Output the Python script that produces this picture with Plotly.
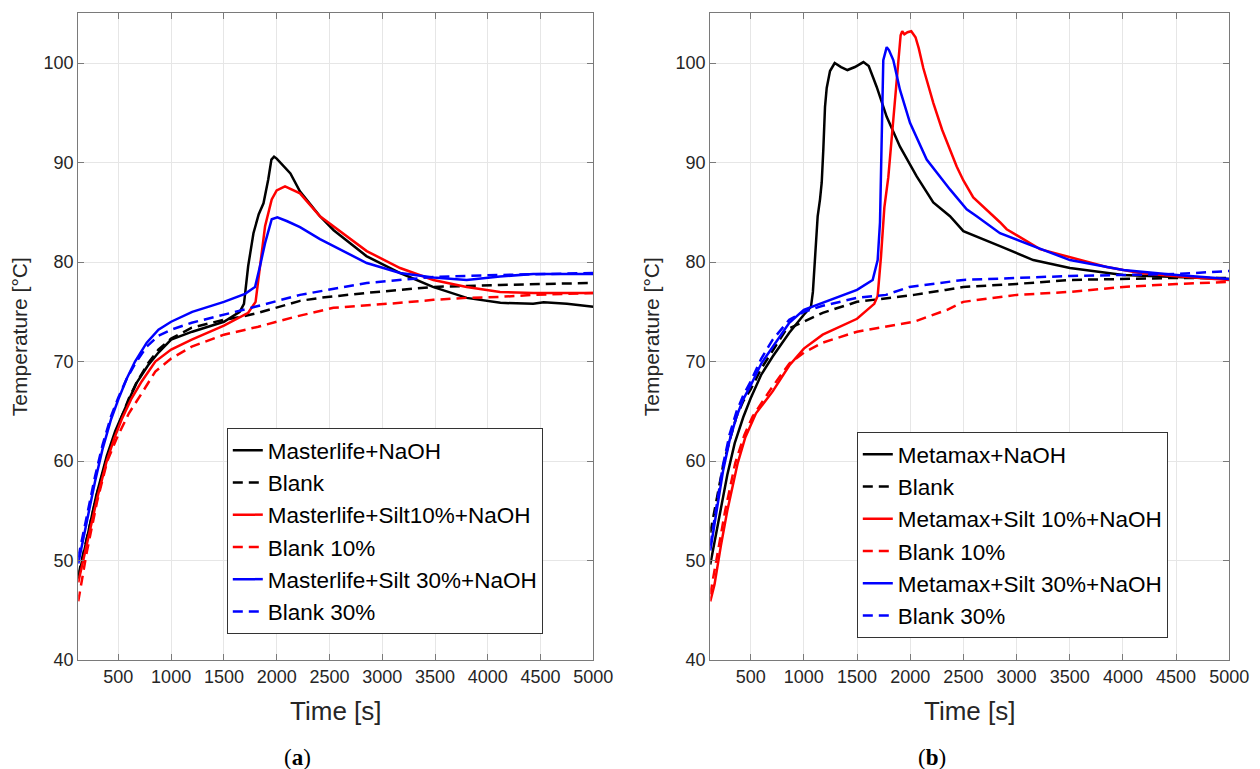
import plotly.graph_objects as go

# ---------------- (a) Masterlife ----------------
t_a_ml = [120, 200, 290, 390, 470, 560, 670, 780, 880, 1000, 1200, 1500, 1650, 1690, 1730, 1780, 1830, 1875,
          1920, 1950, 1975, 2000, 2130, 2220, 2410, 2540, 2850, 3170, 3480, 3800, 4120, 4430, 4530, 4750, 5000]
y_a_ml = [48.2, 52.0, 56.5, 60.5, 63.0, 65.2, 67.8, 69.6, 70.9, 72.2, 73.0, 74.0, 75.0, 75.8, 79.6, 82.9, 84.8, 85.9,
          88.3, 90.3, 90.6, 90.4, 88.9, 87.1, 84.6, 83.2, 80.6, 78.9, 77.5, 76.4, 75.9, 75.8, 75.95, 75.8, 75.5]

t_a_blank = [120, 200, 300, 400, 500, 600, 674, 780, 879, 1000, 1195, 1500, 1669, 1826, 2079, 2221, 2410, 2853,
             3484, 4116, 5000]
y_a_blank = [48.5, 52.3, 56.8, 60.6, 63.6, 66.3, 67.9, 69.8, 71.2, 72.3, 73.4, 74.2, 74.5, 74.9, 75.7, 76.1, 76.4, 76.9,
             77.5, 77.7, 77.9]

t_a_s10 = [120, 200, 300, 390, 462, 532, 620, 721, 850, 1000, 1195, 1500, 1730, 1800, 1843, 1890, 1953, 2000, 2079,
           2221, 2410, 2537, 2853, 3169, 3484, 3800, 4116, 4431, 5000]
y_a_s10 = [47.8, 51.5, 56.3, 60.0, 62.3, 64.2, 66.2, 68.0, 70.0, 71.2, 72.2, 73.6, 74.9, 76.0, 79.6, 83.6, 86.3, 87.2, 87.6,
           86.9, 84.6, 83.6, 81.1, 79.4, 78.2, 77.5, 77.0, 76.9, 76.9]

t_a_b10 = [120, 150, 200, 300, 395, 485, 600, 721, 850, 1000, 1195, 1500, 1826, 2174, 2537, 3169, 3484, 3800, 4116,
           4431, 5000]
y_a_b10 = [45.9, 47.8, 50.8, 56.0, 60.0, 62.3, 64.8, 66.8, 69.0, 70.3, 71.5, 72.7, 73.5, 74.5, 75.4, 75.9, 76.2, 76.4, 76.5,
           76.7, 76.9]

t_a_s30 = [120, 200, 280, 350, 431, 500, 580, 658, 769, 880, 1000, 1200, 1500, 1700, 1795, 1840, 1890, 1953, 2006, 2100,
           2221, 2410, 2537, 2853, 3169, 3484, 3800, 4116, 4431, 5000]
y_a_s30 = [49.7, 54.0, 58.0, 61.2, 64.2, 66.2, 68.3, 70.0, 71.9, 73.2, 74.0, 75.0, 76.0, 76.8, 77.5, 79.5, 81.9, 84.3, 84.5,
           84.1, 83.5, 82.3, 81.6, 79.9, 78.9, 78.45, 78.2, 78.55, 78.8, 78.8]

t_a_b30 = [120, 200, 280, 350, 431, 500, 580, 660, 769, 880, 1000, 1195, 1500, 1795, 2221, 2853, 3484, 4116, 5000]
y_a_b30 = [50.3, 54.5, 58.5, 61.6, 64.5, 66.4, 68.3, 69.8, 71.5, 72.6, 73.2, 73.9, 74.7, 75.5, 76.7, 77.9, 78.5, 78.7, 78.9]

# ---------------- (b) Metamax ----------------
t_b_mm = [120, 200, 280, 350, 430, 500, 600, 707, 863, 1000, 1067, 1085, 1098, 1130, 1152, 1168, 1183, 1199, 1215,
          1246, 1290, 1350, 1410, 1480, 1560, 1610, 1653, 1685, 1779, 1904, 2061, 2217, 2374, 2500, 2844,
          3157, 3502, 4003, 4505, 5000]
y_b_mm = [49.6, 54.3, 58.6, 61.8, 64.4, 66.3, 68.7, 70.5, 72.9, 74.7, 75.5, 77.0, 79.6, 84.6, 86.3, 88.0, 91.3, 95.6, 97.5,
          99.2, 100.0, 99.6, 99.3, 99.6, 100.1, 99.7, 98.5, 97.6, 94.6, 91.6, 88.6, 86.0, 84.6, 83.1, 81.6,
          80.2, 79.4, 78.7, 78.5, 78.3]

t_b_blank = [120, 180, 240, 300, 368, 430, 500, 600, 700, 832, 1000, 1177, 1500, 2036, 2333, 2499, 3001, 3502, 4505, 5000]
y_b_blank = [52.8, 56.0, 59.5, 62.0, 64.5, 66.0, 67.2, 69.3, 71.0, 73.2, 74.0, 74.9, 76.0, 76.7, 77.2, 77.5, 77.8, 78.2,
             78.4, 78.4]

t_b_s10 = [120, 160, 220, 280, 378, 450, 550, 707, 863, 1000, 1177, 1500, 1662, 1694, 1725, 1757, 1794, 1841, 1888,
           1910, 1925, 1945, 1975, 2010, 2050, 2080, 2123, 2217, 2300, 2374, 2437, 2500, 2593, 2844, 2907,
           3220, 3533, 3847, 4160, 4473, 5000]
y_b_s10 = [45.9, 47.6, 51.5, 55.0, 59.8, 62.4, 64.8, 67.0, 69.6, 71.3, 72.7, 74.3, 75.8, 76.6, 80.5, 85.5, 88.5, 94.3, 100.2,
           102.8, 103.2, 102.9, 103.1, 103.2, 102.6, 101.5, 99.5, 96.0, 93.3, 91.2, 89.6, 88.2, 86.5, 84.0, 83.3,
           81.3, 80.4, 79.5, 78.9, 78.6, 78.2]

t_b_b10 = [120, 170, 260, 355, 440, 519, 707, 863, 1000, 1177, 1500, 2036, 2348, 2499, 3001, 3502, 4003, 4505, 5000]
y_b_b10 = [46.6, 49.5, 55.0, 59.8, 62.6, 64.5, 67.5, 69.8, 70.9, 71.9, 73.0, 74.0, 75.2, 76.0, 76.7, 77.0, 77.5, 77.8, 78.0]

t_b_s30 = [120, 180, 240, 300, 368, 430, 500, 600, 707, 863, 1000, 1177, 1500, 1647, 1694, 1716, 1732, 1747, 1779, 1800,
           1841, 1904, 1998, 2155, 2374, 2531, 2625, 2844, 3157, 3502, 4003, 4505, 5000]
y_b_s30 = [51.0, 55.0, 59.0, 62.0, 64.5, 66.2, 67.6, 69.8, 71.5, 73.9, 75.2, 75.9, 77.2, 78.2, 80.2, 84.0, 92.3, 100.3,
           101.6, 101.3, 100.3, 97.3, 94.0, 90.3, 87.3, 85.3, 84.6, 82.9, 81.6, 80.2, 79.2, 78.7, 78.3]

t_b_b30 = [120, 180, 240, 300, 368, 430, 500, 600, 707, 863, 1000, 1177, 1500, 1772, 1991, 2499, 3001, 3502, 4505, 5000]
y_b_b30 = [51.5, 55.5, 59.6, 62.6, 65.0, 66.6, 68.0, 70.3, 72.2, 74.2, 75.0, 75.6, 76.4, 76.7, 77.5, 78.2, 78.4, 78.6,
           78.8, 79.1]

names_a = ["Masterlife+NaOH", "Blank", "Masterlife+Silt10%+NaOH", "Blank 10%", "Masterlife+Silt 30%+NaOH", "Blank 30%"]
names_b = ["Metamax+NaOH", "Blank", "Metamax+Silt 10%+NaOH", "Blank 10%", "Metamax+Silt 30%+NaOH", "Blank 30%"]
colors = ["#000000", "#000000", "#ff0000", "#ff0000", "#0000ff", "#0000ff"]
dashes = ["solid", "10px,6px", "solid", "10px,6px", "solid", "10px,6px"]

series_a = [(t_a_ml, y_a_ml), (t_a_blank, y_a_blank), (t_a_s10, y_a_s10),
            (t_a_b10, y_a_b10), (t_a_s30, y_a_s30), (t_a_b30, y_a_b30)]
series_b = [(t_b_mm, y_b_mm), (t_b_blank, y_b_blank), (t_b_s10, y_b_s10),
            (t_b_b10, y_b_b10), (t_b_s30, y_b_s30), (t_b_b30, y_b_b30)]

fig = go.Figure()
for i, (t, y) in enumerate(series_a):
    fig.add_trace(go.Scatter(x=t, y=y, mode="lines", name=names_a[i],
                             line=dict(color=colors[i], width=2.5, dash=dashes[i]),
                             xaxis="x", yaxis="y", legend="legend"))
for i, (t, y) in enumerate(series_b):
    fig.add_trace(go.Scatter(x=t, y=y, mode="lines", name=names_b[i],
                             line=dict(color=colors[i], width=2.5, dash=dashes[i]),
                             xaxis="x2", yaxis="y2", legend="legend2"))

font = "Liberation Sans"
xax = dict(range=[120, 5000], tickvals=list(range(500, 5001, 500)), automargin=False,
           showgrid=True, gridcolor="#e6e6e6", gridwidth=1, zeroline=False,
           showline=True, linecolor="#7a7a7a", linewidth=1.3, mirror="ticks",
           ticks="inside", ticklen=6, tickcolor="#7a7a7a",
           tickfont=dict(family=font, size=18, color="#262626"),
           title=dict(text="Time [s]", font=dict(family=font, size=26, color="#262626"), standoff=16))
yax = dict(range=[40, 105], tickvals=list(range(40, 101, 10)), automargin=False,
           showgrid=True, gridcolor="#e6e6e6", gridwidth=1, zeroline=False,
           showline=True, linecolor="#7a7a7a", linewidth=1.3, mirror="ticks",
           ticks="inside", ticklen=6, tickcolor="#7a7a7a",
           tickfont=dict(family=font, size=18, color="#262626"),
           title=dict(text="Temperature [°C]", font=dict(family=font, size=21, color="#262626"), standoff=10))

leg = dict(font=dict(family=font, size=22.5, color="#000000"), bgcolor="white",
           bordercolor="#333333", borderwidth=1, xanchor="left", yanchor="top")

fig.update_layout(
    width=1260, height=769,
    margin=dict(l=0, r=0, t=0, b=0),
    paper_bgcolor="white", plot_bgcolor="white",
    xaxis=dict(xax, domain=[0.0621, 0.4709], anchor="y"),
    yaxis=dict(yax, domain=[0.1417, 0.9827], anchor="x"),
    xaxis2=dict(xax, domain=[0.5637, 0.9756], anchor="y2"),
    yaxis2=dict(yax, domain=[0.1417, 0.9827], anchor="x2"),
    legend=dict(leg, x=0.180, y=0.4434),
    legend2=dict(leg, x=0.680, y=0.4382),
)

fig.add_annotation(text="(<b>a</b>)", x=297 / 1260, y=1 - 757 / 769, xref="paper", yref="paper",
                   xanchor="center", yanchor="middle", showarrow=False,
                   font=dict(family="Liberation Serif", size=23, color="#000000"))
fig.add_annotation(text="(<b>b</b>)", x=932 / 1260, y=1 - 757 / 769, xref="paper", yref="paper",
                   xanchor="center", yanchor="middle", showarrow=False,
                   font=dict(family="Liberation Serif", size=23, color="#000000"))

# page body margin would shift the fixed-size figure by 8px
fig.write_html("out.html", config={"displayModeBar": False},
               post_script="document.body.style.margin='0';")
